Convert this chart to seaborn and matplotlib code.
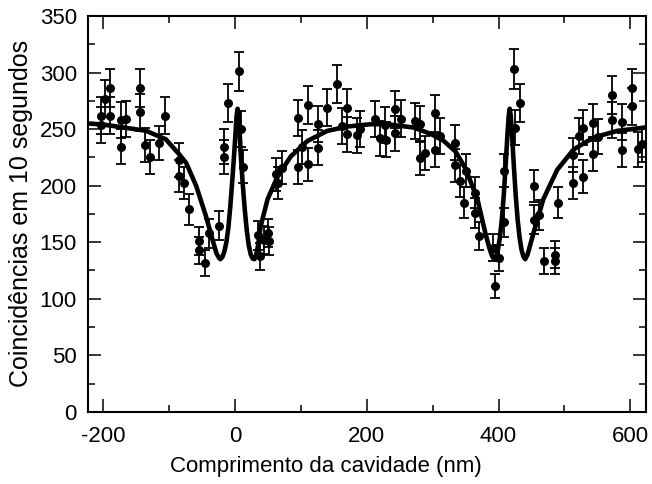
import numpy as np
import pandas as pd
import matplotlib
matplotlib.use("Agg")
import matplotlib.pyplot as plt
import seaborn as sns
from matplotlib.ticker import MultipleLocator

# measured coincidences (x = cavity length in nm, y = counts in 10 s)
pos_nm = [-204, -204, -197, -190, -190, -173, -173, -166, -144, -144,
          -137, -129, -115, -106, -85, -85, -78, -69, -54.5, -54.5,
          -46, -39.4, -24, -16.7, -16.7, -10, 6, 9, 12.6, 35,
          38, 44, 50, 51.5, 63, 64.6, 72, 95.4, 95.4, 102,
          110.6, 110.6, 125.8, 125.8, 140, 155, 162.6, 170, 170, 185,
          190, 213, 220, 227, 229, 243.5, 243.5, 252, 273.7, 281,
          281, 288.8, 304, 304, 311.6, 334, 334, 341, 348, 350,
          363.6, 363.6, 371, 392, 401, 394, 409, 409, 424, 432,
          425, 454.5, 454.5, 462, 469.7, 485, 485, 491, 513, 513,
          521.7, 528, 528, 543, 543, 550.5, 572, 572, 587, 587,
          602, 602, 611, 617.6]
counts = [262, 254, 277, 286, 262, 258, 234.5, 258.7, 286, 265,
          236, 225.6, 237.7, 262, 223, 208.5, 202, 179, 151, 143,
          132, 157.7, 164.5, 234.5, 225.6, 273, 301, 250, 216.8, 156,
          137.6, 152, 158, 151, 210, 202.6, 216, 259.6, 216.5, 234,
          271.4, 218.8, 254.3, 233.6, 269, 290, 252.8, 269, 245.4, 244.5,
          250, 259, 242, 254, 240.5, 267.6, 246.3, 259.3, 257.2, 254.3,
          224.8, 228.6, 263.8, 231.6, 244, 238, 218, 204, 185, 213,
          193.8, 176, 155.3, 145, 136, 111, 167.7, 213, 303, 273,
          251.4, 199.6, 170, 173.7, 133, 139, 133, 185, 227, 202,
          244, 251.4, 208, 255.8, 227.7, 243.4, 280, 258, 256.4, 231.6,
          286, 270, 232, 236.6]

# fitted curve
fit_x = [-223, -200, -170, -135, -105, -85, -74, -59, -44, -34,
         -28, -24, -22, -19, -16, -13, -10, -7, -4, -1,
         1, 2.5, 4, 5.5, 7, 9, 12, 15, 18, 21,
         24, 27, 29.5, 32, 35, 39, 49.5, 65, 85, 110,
         140, 171, 206, 231, 271, 296, 316, 335, 350, 368,
         380, 386, 390, 393, 396, 399, 402, 405, 408, 411,
         413.5, 415.5, 417, 418.5, 420.5, 423, 426, 429, 432, 435,
         438, 440.5, 444, 453, 468, 489, 514, 544, 580, 624]
fit_y = [255, 254, 251.5, 248.5, 241, 228, 220, 200, 173, 152,
         140, 136, 135, 137, 142, 150, 163, 182, 205, 230,
         248, 262, 268, 262, 248, 225, 200, 178, 160, 147,
         139, 135.5, 135, 138, 147, 164, 188, 208.5, 226, 239.5,
         248.4, 252.3, 254.3, 254.3, 251.4, 246, 240, 230, 215, 188,
         158, 145, 138, 135, 137, 143, 154, 170, 192, 220,
         245, 262, 268, 262, 245, 220, 192, 170, 154, 143,
         137, 135, 139, 158, 188, 214, 232, 242.5, 248.4, 251.5]

data = pd.DataFrame({"pos": pos_nm, "counts": counts})
fit = pd.DataFrame({"pos": fit_x, "counts": fit_y})

sns.set_style("ticks")
plt.rcParams["font.family"] = ["Liberation Sans", "DejaVu Sans"]
plt.rcParams["axes.unicode_minus"] = False
plt.rcParams["text.color"] = "black"
plt.rcParams["axes.labelcolor"] = "black"

fig, ax = plt.subplots(figsize=(6.52, 4.84), dpi=100)
fig.subplots_adjust(left=0.135, right=0.991, top=0.967, bottom=0.149)

# Poisson error bars
ax.errorbar(data["pos"], data["counts"], yerr=np.sqrt(data["counts"]),
            fmt="none", ecolor="black", elinewidth=1.3, capsize=3.6,
            capthick=1.3, zorder=2)
sns.scatterplot(data=data, x="pos", y="counts", ax=ax, color="black",
                s=42, edgecolor="black", linewidth=0, zorder=3)
sns.lineplot(data=fit, x="pos", y="counts", ax=ax, color="black",
             linewidth=3.3, sort=False, zorder=4)

ax.set_xlim(-223, 624)
ax.set_ylim(0, 350)
ax.xaxis.set_major_locator(MultipleLocator(200))
ax.xaxis.set_minor_locator(MultipleLocator(100))
ax.yaxis.set_major_locator(MultipleLocator(50))
ax.yaxis.set_minor_locator(MultipleLocator(25))
ax.tick_params(which="both", direction="in", top=True, right=True,
               width=1.1, colors="black", labelsize=16)
ax.tick_params(which="major", length=9.5)
ax.tick_params(which="minor", length=5)
ax.tick_params(axis="x", which="major", pad=10)
ax.tick_params(axis="y", which="major", pad=8)
for s in ax.spines.values():
    s.set_linewidth(1.5)
    s.set_color("black")

ax.set_xlabel("Comprimento da cavidade (nm)", fontsize=16)
ax.xaxis.set_label_coords(0.4265, -0.112)
ax.set_ylabel("Coincidências em 10 segundos", fontsize=18, labelpad=5)

fig.savefig("out.png", dpi=100)
